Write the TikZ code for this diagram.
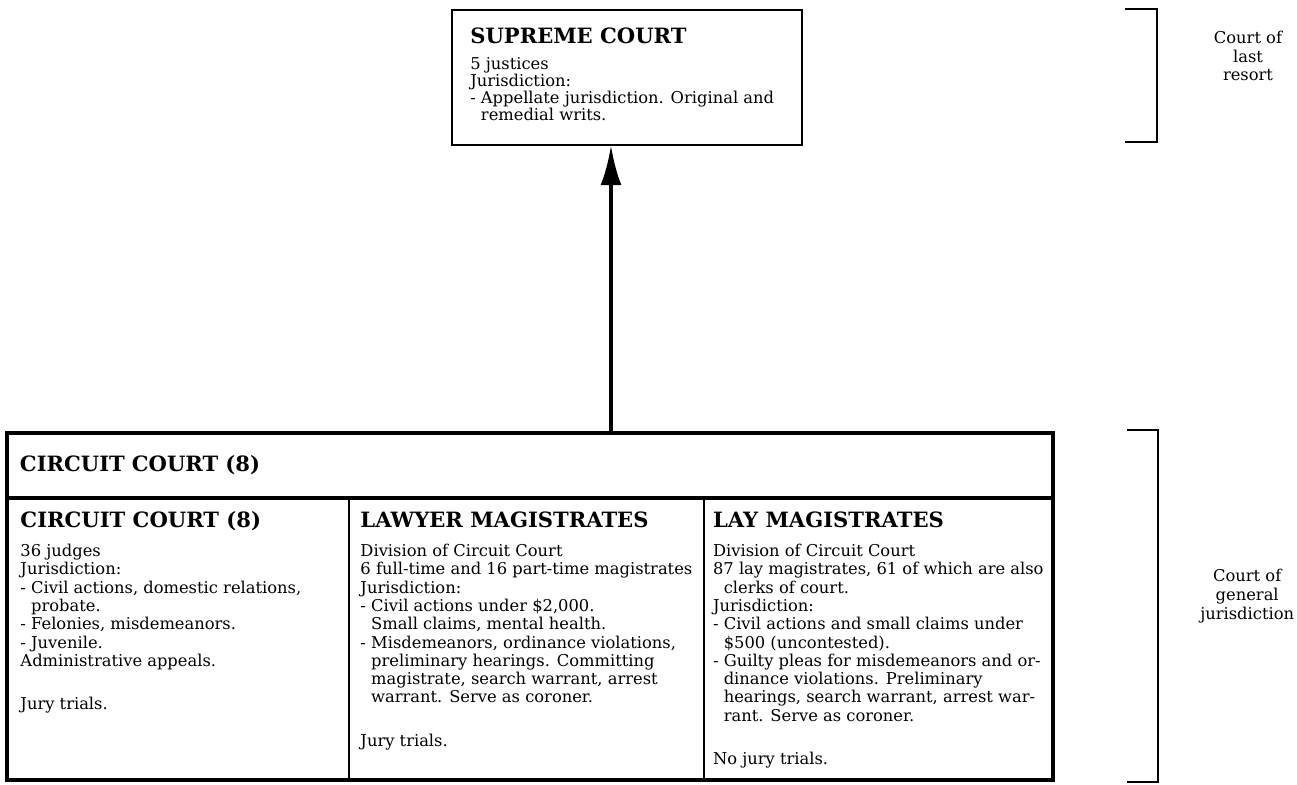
\documentclass[tikz,border=0pt]{standalone}
\usepackage{fontspec}
\setmainfont{DejaVu Serif}
\usetikzlibrary{arrows.meta}

\begin{document}
\begin{tikzpicture}[
        frame/.style={draw, line width=2.6pt, anchor=north west, inner sep=0pt,
                      outer sep=0pt},
        colbox/.style={draw, line width=1.6pt, anchor=north west, outer sep=0pt},
        title/.style={anchor=north west, inner sep=0pt,
                      font=\bfseries\fontsize{15}{17}\selectfont},
        body/.style={anchor=north west, inner sep=0pt, align=left,
                     font=\fontsize{11.6}{13}\selectfont},
        side/.style={align=center, font=\fontsize{11.6}{13.4}\selectfont},
        bracket/.style={line width=1.8pt},
    ]
        \useasboundingbox (0,0) rectangle (32.425,-19.6);

        \node[frame, line width=2pt, minimum width=8.75cm, minimum height=3.375cm]
            (supreme) at (11.3,-0.25) {};
        \node[title] (supremetitle)
            at ([xshift=0.45cm, yshift=-0.45cm]supreme.north west) {SUPREME COURT};
        \node[body, font=\fontsize{11.6}{12}\selectfont] (supremebody)
            at ([xshift=0.45cm, yshift=-1.19cm]supreme.north west)
            {5 justices\\Jurisdiction:\\- Appellate jurisdiction. Original and\\
             \phantom{- }remedial writs.};

        \node[frame, minimum width=26.15cm, minimum height=8.675cm]
            (circuit) at (0.175,-10.825) {};
        \node[frame, minimum width=26.15cm, minimum height=1.625cm,
              text width=25.5cm, inner xsep=0.325cm, align=left,
              font=\bfseries\fontsize{15}{17}\selectfont]
            (header) at (circuit.north west) {CIRCUIT COURT (8)};

        \node[colbox, minimum width=8.55cm, minimum height=7.05cm]
            (judges) at (header.south west) {};
        \node[colbox, minimum width=8.875cm, minimum height=7.05cm]
            (lawyer) at (judges.north east) {};
        \node[colbox, minimum width=8.725cm, minimum height=7.05cm]
            (lay) at (lawyer.north east) {};

        \node[title] (judgestitle)
            at ([xshift=0.33cm, yshift=-0.33cm]judges.north west) {CIRCUIT COURT (8)};
        \node[body] (judgesbody)
            at ([xshift=0.33cm, yshift=-1.15cm]judges.north west)
            {36 judges\\Jurisdiction:\\- Civil actions, domestic relations,\\
             \phantom{- }probate.\\- Felonies, misdemeanors.\\- Juvenile.\\
             Administrative appeals.\\[18pt]Jury trials.};

        \node[title] (lawyertitle)
            at ([xshift=0.28cm, yshift=-0.33cm]lawyer.north west) {LAWYER MAGISTRATES};
        \node[body] (lawyerbody)
            at ([xshift=0.28cm, yshift=-1.15cm]lawyer.north west)
            {Division of Circuit Court\\6 full-time and 16 part-time magistrates\\
             Jurisdiction:\\- Civil actions under \$2,000.\\
             \phantom{- }Small claims, mental health.\\
             - Misdemeanors, ordinance violations,\\
             \phantom{- }preliminary hearings. Committing\\
             \phantom{- }magistrate, search warrant, arrest\\
             \phantom{- }warrant. Serve as coroner.\\[18pt]Jury trials.};

        \node[title] (laytitle)
            at ([xshift=0.22cm, yshift=-0.33cm]lay.north west) {LAY MAGISTRATES};
        \node[body] (laybody)
            at ([xshift=0.22cm, yshift=-1.15cm]lay.north west)
            {Division of Circuit Court\\87 lay magistrates, 61 of which are also\\
             \phantom{- }clerks of court.\\Jurisdiction:\\
             - Civil actions and small claims under\\
             \phantom{- }\$500 (uncontested).\\
             - Guilty pleas for misdemeanors and or-\\
             \phantom{- }dinance violations. Preliminary\\
             \phantom{- }hearings, search warrant, arrest war-\\
             \phantom{- }rant. Serve as coroner.\\[18pt]No jury trials.};

        \draw[line width=3pt, -{Latex[length=1cm, width=0.52cm]}]
            ([xshift=-0.4cm]supreme.south |- circuit.north)
            -- ([xshift=-0.4cm]supreme.south);

        \draw[bracket] (28.125,-0.225) -- (28.925,-0.225) -- (28.925,-3.55)
            -- (28.125,-3.55);
        \draw[bracket] (28.175,-10.75) -- (28.95,-10.75) -- (28.95,-19.55)
            -- (28.175,-19.55);

        \node[side] (lastresort) at (31.2,-1.4) {Court of\\last\\resort};
        \node[side] (general) at (31.18,-14.9) {Court of\\general\\jurisdiction};
    \end{tikzpicture}
\end{document}
